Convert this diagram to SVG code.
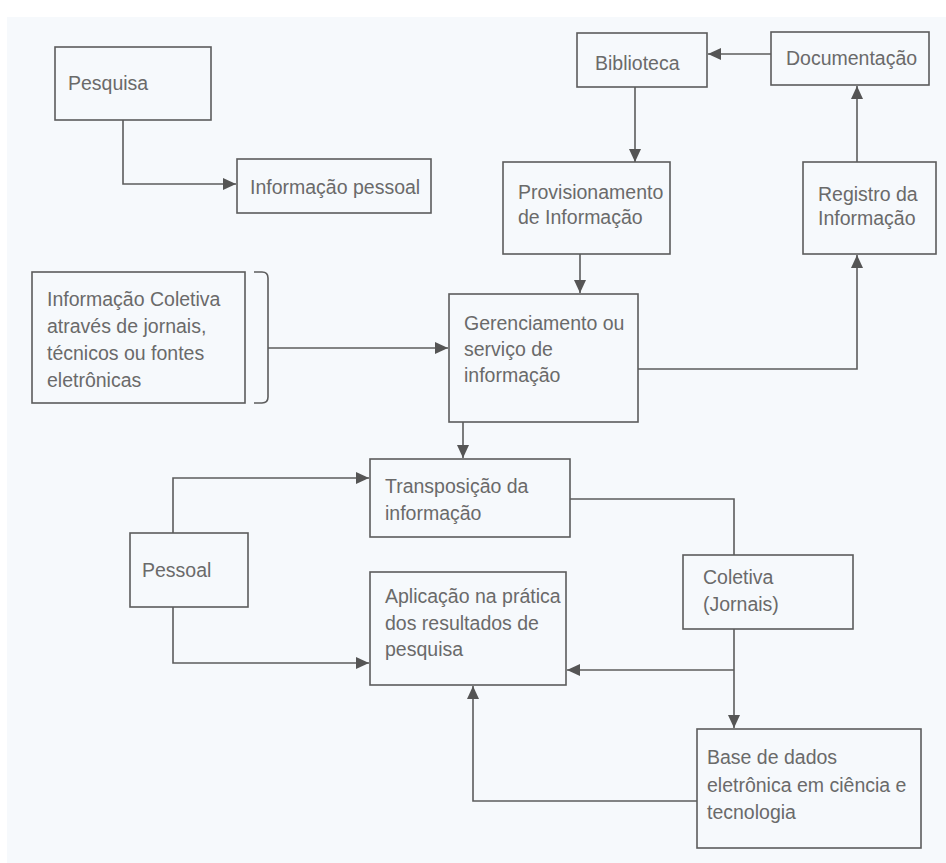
<svg xmlns="http://www.w3.org/2000/svg" width="946" height="863" viewBox="0 0 946 863">
  <style>
    .box { fill: none; stroke: #5c5c5c; stroke-width: 1.6; }
    .wire { fill: none; stroke: #5c5c5c; stroke-width: 1.6; }
    .lbl { font-family: "Liberation Sans", Arial, sans-serif; font-size: 19.5px; fill: #6a6a6a; }
  </style>
  <defs>
    <marker id="arr" markerUnits="userSpaceOnUse" markerWidth="14" markerHeight="12" refX="13" refY="6" orient="auto">
      <path d="M0,0 L13,6 L0,12 Z" fill="#555"/>
    </marker>
  </defs>
  <!-- page -->
  <rect x="0" y="0" width="946" height="863" fill="#ffffff"/>
  <rect x="7" y="17" width="939" height="846" fill="#f6f9fc"/>

  <g id="connectors">
    <!-- Pesquisa to Informação pessoal -->
    <path class="wire" d="M123,120 V184 H236" marker-end="url(#arr)"/>
    <!-- Documentação to Biblioteca -->
    <path class="wire" d="M771,54 H708" marker-end="url(#arr)"/>
    <!-- Biblioteca to Provisionamento -->
    <path class="wire" d="M635,87 V162" marker-end="url(#arr)"/>
    <!-- Registro to Documentação -->
    <path class="wire" d="M857,162 V86" marker-end="url(#arr)"/>
    <!-- Provisionamento to Gerenciamento -->
    <path class="wire" d="M580,254 V293" marker-end="url(#arr)"/>
    <!-- Collective sources bracket -->
    <path class="wire" d="M254,272 H262 Q268,272 268,278 V397 Q268,403 262,403 H254"/>
    <!-- Bracket to Gerenciamento -->
    <path class="wire" d="M268,348 H448" marker-end="url(#arr)"/>
    <!-- Gerenciamento to Registro -->
    <path class="wire" d="M638,369 H857 V255" marker-end="url(#arr)"/>
    <!-- Gerenciamento to Transposição -->
    <path class="wire" d="M463,422 V458" marker-end="url(#arr)"/>
    <!-- Pessoal to Transposição -->
    <path class="wire" d="M173,533 V478 H369" marker-end="url(#arr)"/>
    <!-- Pessoal to Aplicação -->
    <path class="wire" d="M173,607 V663 H369" marker-end="url(#arr)"/>
    <!-- Transposição to Coletiva -->
    <path class="wire" d="M570,499 H734 V555"/>
    <!-- Coletiva to Base de dados -->
    <path class="wire" d="M734,629 V728" marker-end="url(#arr)"/>
    <!-- Coletiva branch to Aplicação -->
    <path class="wire" d="M734,670 H567" marker-end="url(#arr)"/>
    <!-- Base de dados to Aplicação -->
    <path class="wire" d="M697,801 H473 V686" marker-end="url(#arr)"/>
  </g>

  <g id="pesquisa">
    <rect class="box" x="55" y="47" width="156" height="73"/>
    <text class="lbl" x="68" y="90">Pesquisa</text>
  </g>
  <g id="informacao-pessoal">
    <rect class="box" x="237" y="159" width="194" height="54"/>
    <text class="lbl" x="250" y="194">Informação pessoal</text>
  </g>
  <g id="biblioteca">
    <rect class="box" x="577" y="33" width="130" height="54"/>
    <text class="lbl" x="595" y="70">Biblioteca</text>
  </g>
  <g id="documentacao">
    <rect class="box" x="771" y="32" width="158" height="53"/>
    <text class="lbl" x="786" y="65">Documentação</text>
  </g>
  <g id="provisionamento">
    <rect class="box" x="503" y="162" width="167" height="92"/>
    <text class="lbl" x="518" y="199">Provisionamento</text>
    <text class="lbl" x="518" y="224">de Informação</text>
  </g>
  <g id="registro">
    <rect class="box" x="803" y="162" width="133" height="92"/>
    <text class="lbl" x="818" y="201">Registro da</text>
    <text class="lbl" x="818" y="225">Informação</text>
  </g>
  <g id="informacao-coletiva">
    <rect class="box" x="32" y="272" width="213" height="131"/>
    <text class="lbl" x="47" y="306">Informação Coletiva</text>
    <text class="lbl" x="47" y="333">através de jornais,</text>
    <text class="lbl" x="47" y="360">técnicos ou fontes</text>
    <text class="lbl" x="47" y="387">eletrônicas</text>
  </g>
  <g id="gerenciamento">
    <rect class="box" x="449" y="294" width="189" height="128"/>
    <text class="lbl" x="464" y="330">Gerenciamento ou</text>
    <text class="lbl" x="464" y="356">serviço de</text>
    <text class="lbl" x="464" y="382">informação</text>
  </g>
  <g id="transposicao">
    <rect class="box" x="370" y="459" width="200" height="78"/>
    <text class="lbl" x="385" y="493">Transposição da</text>
    <text class="lbl" x="385" y="520">informação</text>
  </g>
  <g id="pessoal">
    <rect class="box" x="130" y="533" width="118" height="74"/>
    <text class="lbl" x="142" y="577">Pessoal</text>
  </g>
  <g id="aplicacao">
    <rect class="box" x="370" y="572" width="196" height="113"/>
    <text class="lbl" x="385" y="603">Aplicação na prática</text>
    <text class="lbl" x="385" y="630">dos resultados de</text>
    <text class="lbl" x="385" y="656">pesquisa</text>
  </g>
  <g id="coletiva">
    <rect class="box" x="683" y="555" width="170" height="74"/>
    <text class="lbl" x="703" y="584">Coletiva</text>
    <text class="lbl" x="703" y="611">(Jornais)</text>
  </g>
  <g id="base-de-dados">
    <rect class="box" x="697" y="729" width="224" height="119"/>
    <text class="lbl" x="707" y="764">Base de dados</text>
    <text class="lbl" x="707" y="792">eletrônica em ciência e</text>
    <text class="lbl" x="707" y="819">tecnologia</text>
  </g>
</svg>
